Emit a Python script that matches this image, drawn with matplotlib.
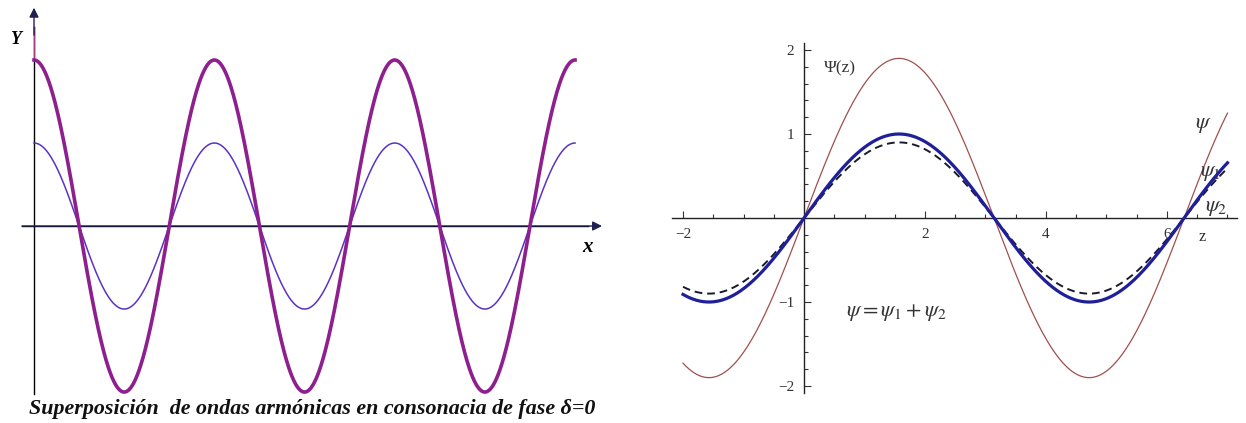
import numpy as np
import matplotlib.pyplot as plt
from matplotlib.ticker import FixedLocator

plt.rcParams['mathtext.fontset'] = 'stix'

# left panel: two harmonic waves in phase (cosines), 3 periods
amp_sum = 2.0        # resulting wave
amp_single = 1.0     # each component
n_periods = 3

# right panel: psi = psi1 + psi2 over z
z_range = (-2.0, 7.0)
amp_psi = 1.9
amp_psi1 = 1.0
amp_psi2 = 0.9
xtick_vals = [-2, 2, 4, 6]
ytick_vals = [-2, -1, 1, 2]

caption = 'Superposición  de ondas armónicas en consonacia de fase δ=0'

fig = plt.figure(figsize=(12.46, 4.23), dpi=100)

# ---------- left panel ----------
axL = fig.add_axes([0, 0, 0.5, 1])
axL.set_axis_off()
axL.set_xlim(-1.185, 20.52)
axL.set_ylim(-2.373, 2.723)

x = np.linspace(0, 2 * np.pi * n_periods, 1200)
axL.plot(x, amp_single * np.cos(x), color='#5b32c4', lw=1.1, zorder=3)
axL.plot(x, amp_sum * np.cos(x), color='#8e1f8e', lw=2.6, zorder=4)

# axes with arrows
axL.plot([0, 0], [-2.02, 2.4], color='black', lw=1.0, zorder=2)
axL.plot([0, 0], [2.0, 2.4], color='#a4407f', lw=1.0, zorder=2)
axL.annotate('', xy=(0, 2.63), xytext=(0, 2.3),
             arrowprops=dict(arrowstyle='-|>', color='#1e2050', lw=1.0,
                             mutation_scale=14, shrinkA=0, shrinkB=0))
axL.annotate('', xy=(19.79, 0), xytext=(-0.42, 0),
             arrowprops=dict(arrowstyle='-|>', color='#1e2050', lw=1.0,
                             mutation_scale=14, shrinkA=0, shrinkB=0))
axL.plot([-0.42, 19.3], [0, 0], color='black', lw=1.0, zorder=2)

axL.text(-0.63, 2.25, 'Y', family='Liberation Serif', style='italic',
         weight='bold', fontsize=13, ha='center', va='center')
axL.text(19.27, -0.25, 'x', family='Liberation Serif', style='italic',
         weight='bold', fontsize=15, ha='center', va='center')

fig.text(312 / 1246, 1 - 409 / 423, caption, family='Liberation Serif',
         style='italic', weight='bold', fontsize=15.8, color='#111111',
         ha='center', va='center')

# ---------- right panel ----------
axR = fig.add_axes([0.5, 0, 0.5, 1])
axR.set_xlim(-2.992, 7.306)
axR.set_ylim(-2.44, 2.595)
axR.patch.set_alpha(0)

z = np.linspace(z_range[0], z_range[1], 800)
axR.plot(z, amp_psi * np.sin(z), color='#a0504c', lw=0.9, zorder=3)
axR.plot(z, amp_psi2 * np.sin(z), color='#1a1a2a', lw=1.4,
         dashes=(4, 2.5), zorder=4)
axR.plot(z, amp_psi1 * np.sin(z), color='#1f1f9a', lw=2.3, zorder=5)

for s in ['top', 'right']:
    axR.spines[s].set_visible(False)
axR.spines['left'].set_position(('data', 0))
axR.spines['bottom'].set_position(('data', 0))
axR.spines['left'].set_bounds(-2.08, 2.08)
axR.spines['bottom'].set_bounds(-2.18, 7.16)
for s in ['left', 'bottom']:
    axR.spines[s].set_color('#222222')
    axR.spines[s].set_linewidth(1.0)

axR.xaxis.set_major_locator(FixedLocator(xtick_vals))
axR.yaxis.set_major_locator(FixedLocator(ytick_vals))
xminor = [v for v in np.arange(-2.0, 7.01, 0.5) if v not in xtick_vals and v != 0]
yminor = [v for v in np.round(np.arange(-2.0, 2.01, 0.2), 1)
          if v not in ytick_vals and v != 0]
axR.xaxis.set_minor_locator(FixedLocator(xminor))
axR.yaxis.set_minor_locator(FixedLocator(yminor))
axR.tick_params(which='both', direction='in', color='#333333', width=0.8)
axR.tick_params(which='major', length=5, pad=7, labelsize=11, labelcolor='#333333')
axR.tick_params(which='minor', length=3)
for lab in axR.get_xticklabels() + axR.get_yticklabels():
    lab.set_family('Liberation Serif')

axR.text(0.6, 1.78, 'Ψ(z)', family='Liberation Serif', fontsize=12.5,
         color='#333333', ha='center', va='center')
axR.text(6.46, 1.11, r'$\psi$', fontsize=16, color='#333333',
         ha='left', va='center')
axR.text(6.55, 0.54, r'$\psi_1$', fontsize=16, color='#333333',
         ha='left', va='center')
axR.text(6.63, 0.12, r'$\psi_2$', fontsize=16, color='#333333',
         ha='left', va='center')
axR.text(6.58, -0.23, 'z', family='Liberation Serif', fontsize=12,
         color='#333333', ha='center', va='center')
axR.text(1.52, -1.13, r'$\psi = \psi_1 + \psi_2$', fontsize=16,
         color='#333333', ha='center', va='center')

fig.savefig('out.png', dpi=100)
